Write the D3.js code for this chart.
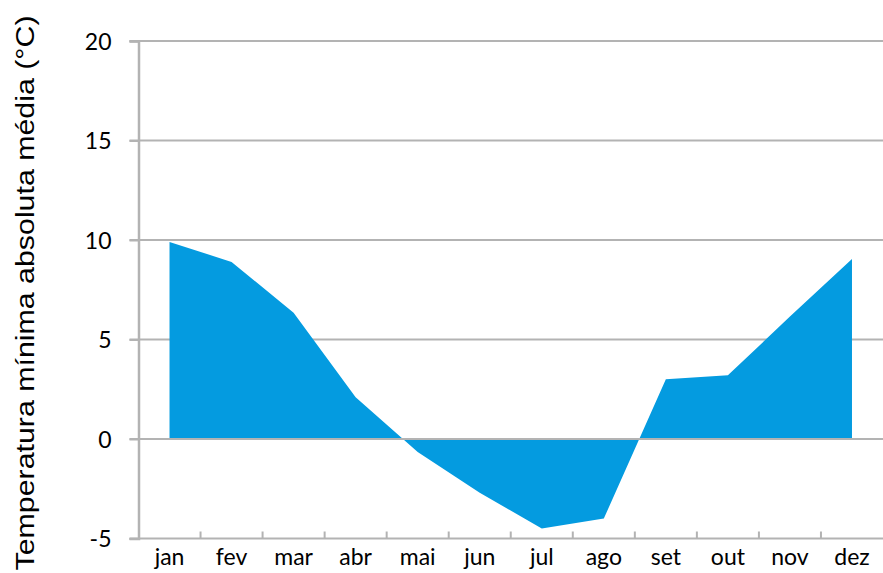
<html>
<head>
<script src="https://d3js.org/d3.v7.min.js"></script>
<style>
  body { margin: 0; background: #fff; }
  .tick text { font-family: Lato, "Open Sans", sans-serif; font-size: 23px; fill: #000; }
</style>
</head>
<body>
<div id="chart"></div>
<script>
// data
var months = ["jan","fev","mar","abr","mai","jun","jul","ago","set","out","nov","dez"];
var tmin = [9.9, 8.9, 6.35, 2.1, -0.65, -2.7, -4.5, -4.0, 3.0, 3.2, 6.15, 9.05];
var yTicks = [-5, 0, 5, 10, 15, 20];
var yTitle = "Temperatura mínima absoluta média (°C)";

var width = 883, height = 573;
var mLeft = 138.5, mRight = 883, mTop = 41, mBottom = 538.5;

var svg = d3.select("#chart").append("svg")
  .attr("width", width).attr("height", height);

var x = d3.scaleBand().domain(months).range([mLeft, mRight]);
var y = d3.scaleLinear().domain([-5, 20]).range([mBottom, mTop]);

var gray = "#b3b3b3";

// gridlines
svg.append("g").selectAll("line").data(yTicks.filter(function(d){ return d > -5; })).enter()
  .append("line")
  .attr("x1", mLeft - 9).attr("x2", mRight)
  .attr("y1", function(d){ return y(d); }).attr("y2", function(d){ return y(d); })
  .attr("stroke", gray).attr("stroke-width", 2);

// area
var area = d3.area()
  .x(function(d, i){ return x(months[i]) + x.bandwidth() / 2; })
  .y0(y(0))
  .y1(function(d){ return y(d); });

svg.append("path").datum(tmin)
  .attr("d", area)
  .attr("fill", "#049be0");

// zero line over the area
svg.append("line")
  .attr("x1", mLeft).attr("x2", mRight)
  .attr("y1", y(0)).attr("y2", y(0))
  .attr("stroke", gray).attr("stroke-width", 2);

// y axis
var yAxis = svg.append("g").attr("transform", "translate(" + mLeft + ",0)")
  .call(d3.axisLeft(y).tickValues(yTicks).tickSize(9).tickPadding(18)
    .tickFormat(function(d){ return String(d); }));
yAxis.select(".domain").attr("stroke", gray).attr("stroke-width", 2.5);
yAxis.selectAll(".tick line").attr("stroke", gray).attr("stroke-width", 2);
yAxis.selectAll(".tick text").attr("dy", "0.36em");

// x axis line and ticks between categories
svg.append("line")
  .attr("x1", mLeft - 9).attr("x2", mRight)
  .attr("y1", mBottom).attr("y2", mBottom)
  .attr("stroke", gray).attr("stroke-width", 2);

svg.append("g").selectAll("line").data(months.slice(1)).enter()
  .append("line")
  .attr("x1", function(d){ return x(d); }).attr("x2", function(d){ return x(d); })
  .attr("y1", mBottom).attr("y2", mBottom - 7)
  .attr("stroke", gray).attr("stroke-width", 2);

var xAxis = svg.append("g").attr("transform", "translate(0," + mBottom + ")")
  .call(d3.axisBottom(x).tickSize(0).tickPadding(10));
xAxis.select(".domain").remove();

// y title, stretched along its length to span like the reference
var title = svg.append("text")
  .attr("text-anchor", "middle")
  .style("font-family", "'Liberation Sans', Arial, sans-serif")
  .style("font-size", "26px")
  .text(yTitle);
var stretch = 555 / title.node().getComputedTextLength();
title.attr("transform", "translate(34,293) rotate(-90) scale(" + stretch + ",1)");
</script>
</body>
</html>
